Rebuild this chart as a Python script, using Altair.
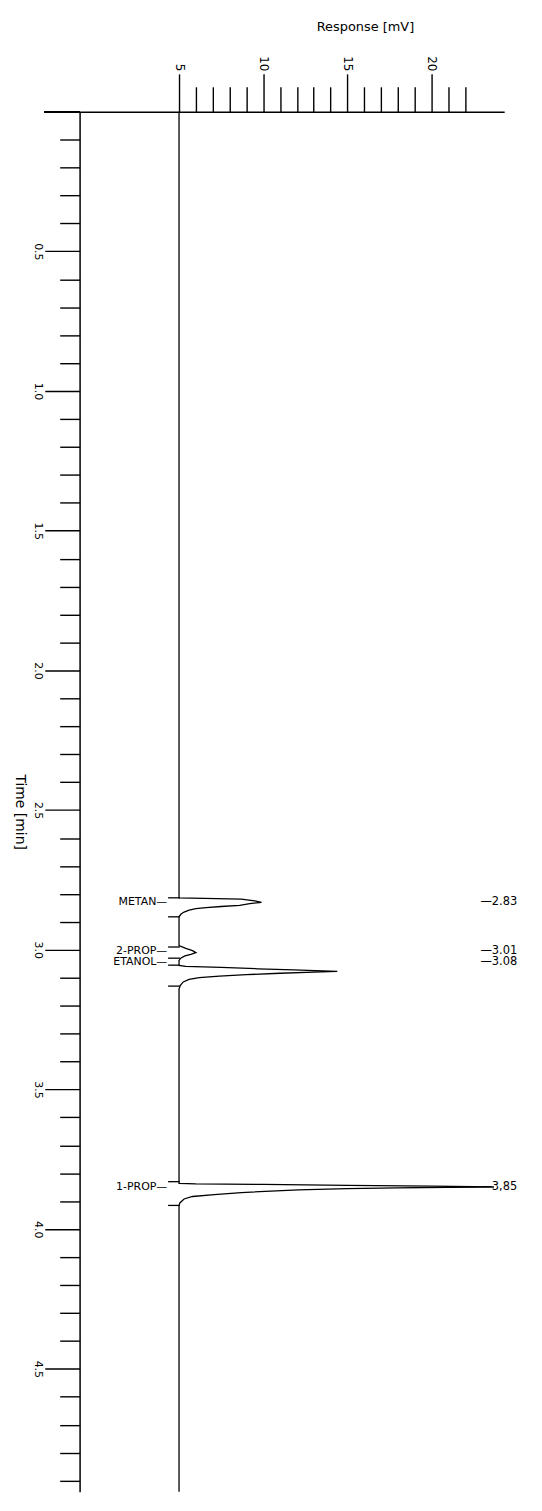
import altair as alt
import pandas as pd

# ---- chromatogram trace (time in min, response in mV) ----
trace_time = [0.000, 2.800, 2.814, 2.816, 2.819, 2.825, 2.830, 2.835, 2.841, 2.845,
              2.849, 2.853, 2.858, 2.865, 2.872, 2.882,
              2.985, 2.995, 3.003, 3.010, 3.016, 3.022, 3.030, 3.038,
              3.045, 3.056, 3.059, 3.063, 3.068, 3.072, 3.077, 3.080, 3.084, 3.089,
              3.094, 3.100, 3.106, 3.115, 3.127, 3.140,
              3.820, 3.836, 3.838, 3.840, 3.843, 3.846, 3.849, 3.850, 3.852, 3.855,
              3.859, 3.869, 3.876, 3.883, 3.892, 3.906, 3.915, 4.940]
trace_resp = [5.0, 5.0, 5.0, 6.5, 8.7, 9.5, 9.9, 9.2, 8.6, 7.5,
              6.6, 6.0, 5.6, 5.3, 5.12, 5.0,
              5.0, 5.4, 5.8, 6.0, 5.7, 5.35, 5.1, 5.0,
              5.0, 5.0, 5.4, 7.5, 9.7, 11.8, 14.4, 13.0, 11.0, 9.0,
              7.4, 6.2, 5.6, 5.25, 5.08, 5.0,
              5.0, 5.0, 6.0, 10.0, 15.0, 20.0, 23.7, 21.0, 18.0, 15.0,
              12.1, 8.7, 7.1, 5.8, 5.3, 5.05, 5.0, 5.0]

# ---- peaks ----
peak_names = ["METAN", "2-PROP", "ETANOL", "1-PROP"]
peak_rt_text = ["2.83", "3.01", "3.08", "3,85"]
label_time = [2.83, 3.003, 3.044, 3.85]
marker_time = [2.814, 2.882, 2.99, 3.03, 3.055, 3.13, 3.83, 3.915]

# ---- axes ----
resp_domain = [-0.906, 24.31]
resp_ticks = [5, 6, 7, 8, 9, 10, 11, 12, 13, 14, 15, 16, 17, 18, 19, 20, 21, 22]
time_domain = [0.0, 4.94]
time_ticks = [0.1, 0.2, 0.3, 0.4, 0.5, 0.6, 0.7, 0.8, 0.9, 1.0,
              1.1, 1.2, 1.3, 1.4, 1.5, 1.6, 1.7, 1.8, 1.9, 2.0,
              2.1, 2.2, 2.3, 2.4, 2.5, 2.6, 2.7, 2.8, 2.9, 3.0,
              3.1, 3.2, 3.3, 3.4, 3.5, 3.6, 3.7, 3.8, 3.9, 4.0,
              4.1, 4.2, 4.3, 4.4, 4.5, 4.6, 4.7, 4.8, 4.9]

trace_df = pd.DataFrame({"time": trace_time, "resp": trace_resp})
labels_df = pd.DataFrame({
    "time": label_time,
    "left": [n + "—" for n in peak_names],
    "right": ["—" + t for t in peak_rt_text],
})
marker_df = pd.DataFrame({"time": marker_time})

FONT = "DejaVu Sans"
major_t = "abs(datum.value*2 - round(datum.value*2)) < 0.001"

x_scale = alt.Scale(domain=resp_domain, nice=False, zero=False)
y_scale = alt.Scale(domain=time_domain, reverse=True, nice=False, zero=False)

x_axis = alt.Axis(
    orient="top", values=resp_ticks, tickCount=200, grid=False,
    tickSize={"condition": {"test": "datum.value % 5 === 0", "value": 38}, "value": 25},
    labelExpr="datum.value % 5 === 0 ? format(datum.value, 'd') : ''",
    labelAngle=90, labelAlign="right", labelBaseline="middle", labelPadding=3,
    labelFontSize=12, labelFont=FONT, labelColor="black", labelFlush=False, labelOverlap=False,
    tickColor="black", tickWidth=1.4, domainColor="black", domainWidth=1.5,
    title="Response [mV]", titleX=287, titleY=-86, titleAngle=0, titleAlign="center",
    titleBaseline="middle", titleFontSize=13, titleFont=FONT, titleFontWeight="normal",
    titleColor="black",
)
y_axis = alt.Axis(
    orient="left", values=time_ticks, tickCount=200, grid=False,
    tickSize={"condition": {"test": major_t, "value": 35}, "value": 20},
    labelExpr=major_t + " ? format(datum.value, '.1f') : ''",
    labelAngle=90, labelAlign="center", labelBaseline="top", labelPadding=1,
    labelFontSize=11, labelFont=FONT, labelColor="black", labelFlush=False, labelOverlap=False,
    tickColor="black", tickWidth=1.4, domainColor="black", domainWidth=1.5,
    title="Time [min]", titleX=-60, titleY=704, titleAngle=90, titleAlign="center",
    titleBaseline="middle", titleFontSize=14, titleFont=FONT, titleFontWeight="normal",
    titleColor="black",
)

trace = alt.Chart(trace_df).mark_line(color="black", strokeWidth=1.3).encode(
    x=alt.X("resp:Q", scale=x_scale, axis=x_axis),
    y=alt.Y("time:Q", scale=y_scale, axis=y_axis),
    order="time:Q",
)

markers = alt.Chart(marker_df).mark_rule(color="black", strokeWidth=1.3).encode(
    x=alt.datum(4.35), x2=alt.datum(5.05), y="time:Q",
)

left_labels = alt.Chart(labels_df).mark_text(
    align="right", baseline="middle", font=FONT, fontSize=11, color="black"
).encode(x=alt.datum(4.3), y="time:Q", text="left:N")

right_labels = alt.Chart(labels_df).mark_text(
    align="left", baseline="middle", font=FONT, fontSize=11.5, color="black"
).encode(x=alt.datum(22.9), y="time:Q", text="right:N")

axis_ext = alt.Chart(trace_df).mark_rule(color="black", strokeWidth=1.5).encode(
    x=alt.value(-35), x2=alt.value(0), y=alt.value(0)
)

chart = alt.layer(trace, markers, left_labels, right_labels, axis_ext).properties(
    width=427, height=1388,
    autosize=alt.AutoSizeParams(type="none"),
    padding={"left": 72, "top": 100, "right": 30, "bottom": 2},
).configure_view(strokeWidth=0)

chart.save("out.html", embed_options={"renderer": "svg", "actions": False})
